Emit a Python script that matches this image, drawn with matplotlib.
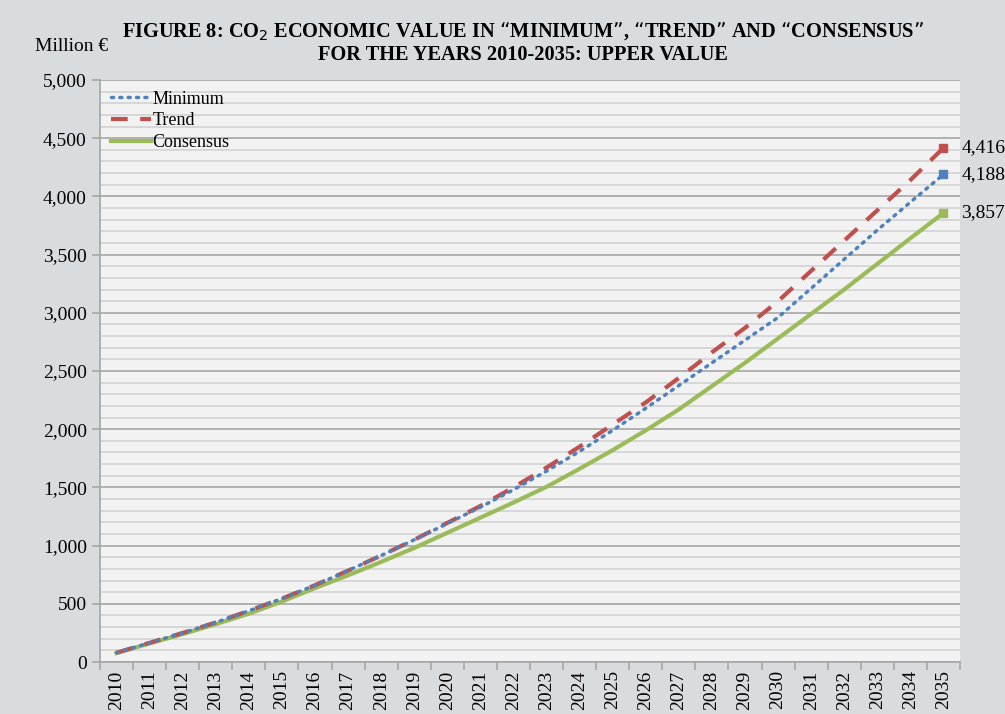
import matplotlib
matplotlib.use("Agg")
import matplotlib.pyplot as plt
import numpy as np
from matplotlib.ticker import MultipleLocator, FuncFormatter

years = list(range(2010, 2036))
minimum = [80, 165, 250, 340, 440, 545, 660, 785, 915, 1050, 1190, 1330, 1480,
           1640, 1810, 1990, 2180, 2375, 2570, 2765, 2960, 3210, 3460, 3710, 3950, 4188]
trend = [80, 165, 250, 340, 440, 545, 660, 785, 915, 1050, 1195, 1340, 1500,
         1670, 1850, 2040, 2230, 2440, 2660, 2870, 3100, 3360, 3620, 3880, 4140, 4416]
consensus = [77, 160, 240, 325, 415, 520, 635, 745, 860, 980, 1110, 1240, 1370,
             1505, 1660, 1820, 1990, 2170, 2370, 2570, 2780, 2990, 3200, 3420, 3640, 3857]

plt.rcParams['font.family'] = ['Liberation Serif', 'DejaVu Serif']

fig = plt.figure(figsize=(10.05, 7.14), dpi=100)
fig.patch.set_facecolor("#D9DCDF")
ax = fig.add_axes([0.0995, 0.0728, 0.8557, 0.8152])
ax.set_facecolor("#F2F2F2")

x = np.arange(len(years))
ax.plot(x, minimum, color="#4F81BD", lw=2.5, ls=(0, (0.6, 1.8)), dash_capstyle="round",
        label="Minimum", zorder=4)
ax.plot(x, trend, color="#C0504D", lw=3, ls=(0, (4, 3)), label="Trend", zorder=3)
ax.plot(x, consensus, color="#9BBB59", lw=3, label="Consensus", zorder=2)

# end markers and labels
for series, col in [(minimum, "#4F81BD"), (trend, "#C0504D"), (consensus, "#9BBB59")]:
    ax.plot(x[-1], series[-1], marker="s", ms=6, color=col, zorder=5)
    ax.annotate(f"{series[-1]:,}", (x[-1], series[-1]), xytext=(13, 0),
                textcoords="offset points", fontsize=14, va="center", ha="left",
                annotation_clip=False)

ax.set_xlim(-0.5, len(years) - 0.5)
ax.set_ylim(0, 5000)
ax.yaxis.set_major_locator(MultipleLocator(500))
ax.yaxis.set_minor_locator(MultipleLocator(100))
ax.yaxis.set_major_formatter(FuncFormatter(lambda v, p: f"{int(v):,}"))
ax.grid(which="major", axis="y", color="#A6A6A6", lw=1.2)
ax.grid(which="minor", axis="y", color="#D2D2D2", lw=1.2)
ax.set_axisbelow(True)

ax.set_xticks(x)
ax.set_xticklabels([str(y) for y in years], rotation=90, fontsize=14)
ax.set_xticks(np.arange(-0.5, len(years), 1), minor=True)
ax.tick_params(axis="x", which="major", length=0, pad=6)
ax.tick_params(axis="x", which="minor", length=6, color="#A6A6A6", width=1.2)
ax.tick_params(axis="y", which="major", length=6, color="#A6A6A6", width=1.2, labelsize=14)
ax.tick_params(axis="y", which="minor", length=0)

for side in ["top", "right"]:
    ax.spines[side].set_visible(False)
ax.spines["left"].set_color("#A6A6A6")
ax.spines["bottom"].set_color("#A6A6A6")
ax.spines["left"].set_linewidth(1.2)
ax.spines["bottom"].set_linewidth(1.2)

leg = ax.legend(loc="upper left", frameon=False, fontsize=13, handlelength=2.2,
                handletextpad=0.1, borderaxespad=0.2, labelspacing=0.25)

fig.text(0.035, 0.935, "Million €", fontsize=14, ha="left", va="center")
fig.text(0.52, 0.94, "FIGURE 8: CO$_2$ ECONOMIC VALUE IN “MINIMUM”, “TREND” AND “CONSENSUS”\n"
         "FOR THE YEARS 2010-2035: UPPER VALUE",
         fontsize=14.7, fontweight="bold", ha="center", va="center", linespacing=1.2)

fig.savefig("out.png", dpi=100, facecolor=fig.get_facecolor())
